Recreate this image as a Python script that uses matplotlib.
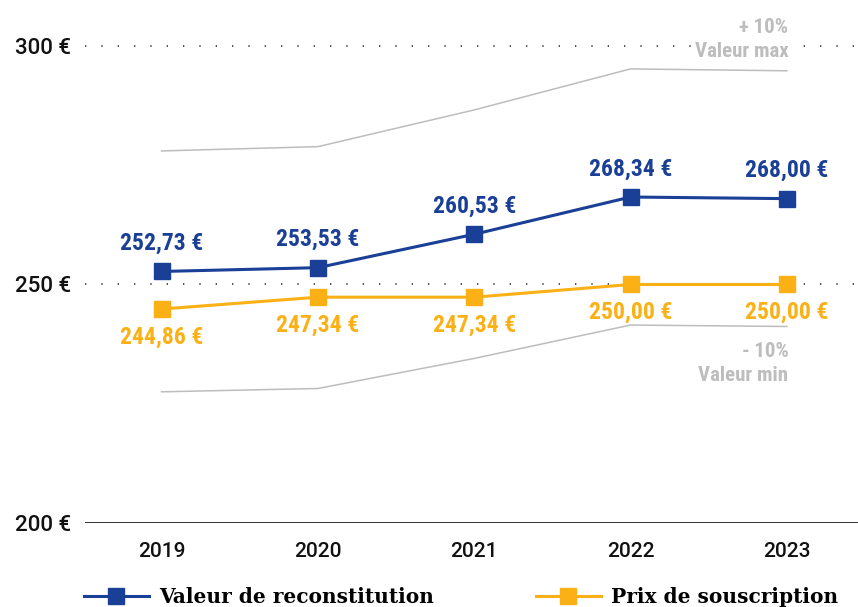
import matplotlib.pyplot as plt

annees = [2019, 2020, 2021, 2022, 2023]
valeur_reconstitution = [252.73, 253.53, 260.53, 268.34, 268.00]
prix_souscription = [244.86, 247.34, 247.34, 250.00, 250.00]
valeur_max = [278.0, 278.9, 286.6, 295.2, 294.8]
valeur_min = [227.5, 228.2, 234.5, 241.5, 241.2]
labels_reconstitution = ["252,73 €", "253,53 €", "260,53 €", "268,34 €", "268,00 €"]
labels_souscription = ["244,86 €", "247,34 €", "247,34 €", "250,00 €", "250,00 €"]
ticks_y = [200, 250, 300]
ticks_y_labels = ["200 €", "250 €", "300 €"]

BLEU = "#1a3f96"
JAUNE = "#fbb116"
GRIS = "#bdbdbd"
COND = ["Roboto Condensed", "DejaVu Sans"]
SLAB = ["Roboto Slab", "DejaVu Serif"]

fig = plt.figure(figsize=(8.58, 6.07), dpi=100)
ax = fig.add_axes([85 / 858, 84 / 607, 773 / 858, 477 / 607])
ax.set_xlim(2018.51, 2023.455)
ax.set_ylim(200, 300)

# lignes pointillees de reference
for y in [250, 300]:
    ax.axhline(y, color="#333333", lw=1.2, ls=(0, (0.8, 9)), clip_on=False, zorder=1)
ax.axhline(200, color="#111111", lw=1.2, zorder=1)

# valeurs max / min
ax.plot(annees, valeur_max, color=GRIS, lw=1.1, zorder=2)
ax.plot(annees, valeur_min, color=GRIS, lw=1.1, zorder=2)

ax.plot(annees, valeur_reconstitution, color=BLEU, lw=2.2, marker="s", ms=12, zorder=4)
ax.plot(annees, prix_souscription, color=JAUNE, lw=2.2, marker="s", ms=12, zorder=3)

for x, y, t in zip(annees, valeur_reconstitution, labels_reconstitution):
    ax.annotate(t, (x, y), xytext=(0, 12), textcoords="offset points", ha="center",
                va="bottom", color=BLEU, family=COND, fontweight="bold", fontsize=17)
for x, y, t in zip(annees, prix_souscription, labels_souscription):
    ax.annotate(t, (x, y), xytext=(0, -12), textcoords="offset points", ha="center",
                va="top", color=JAUNE, family=COND, fontweight="bold", fontsize=17)

ax.text(2023.01, 303.8, "+ 10%", ha="right", va="center", color=GRIS,
        family=COND, fontweight="bold", fontsize=15)
ax.text(2023.01, 298.8, "Valeur max", ha="right", va="center", color=GRIS,
        family=COND, fontweight="bold", fontsize=15, bbox=dict(fc="white", ec="none", pad=3))
ax.text(2023.01, 236.0, "- 10%", ha="right", va="center", color=GRIS,
        family=COND, fontweight="bold", fontsize=15)
ax.text(2023.01, 231.0, "Valeur min", ha="right", va="center", color=GRIS,
        family=COND, fontweight="bold", fontsize=15)

ax.set_xticks(annees)
ax.set_xticklabels([str(a) for a in annees], fontsize=15, family="Roboto", fontweight=500)
ax.set_yticks(ticks_y)
ax.set_yticklabels(ticks_y_labels, fontsize=16, family="Roboto", fontweight=500)
ax.tick_params(length=0, pad=14, colors="#111111")
ax.tick_params(axis="y", pad=10)
for s in ax.spines.values():
    s.set_visible(False)

# legende en deux blocs
h1, = ax.plot([], [], color=BLEU, lw=2.2, marker="s", ms=12)
h2, = ax.plot([], [], color=JAUNE, lw=2.2, marker="s", ms=12)
prop_leg = dict(family=SLAB, weight="bold", size=14.5)
l1 = fig.legend([h1], ["Valeur de reconstitution"], loc="center left",
                bbox_to_anchor=(66 / 858, 1 - 597 / 607), frameon=False, prop=prop_leg,
                handlelength=3.2, handletextpad=0.5)
l2 = fig.legend([h2], ["Prix de souscription"], loc="center left",
                bbox_to_anchor=(518 / 858, 1 - 597 / 607), frameon=False, prop=prop_leg,
                handlelength=3.2, handletextpad=0.5)

fig.savefig("out.png", dpi=100)
